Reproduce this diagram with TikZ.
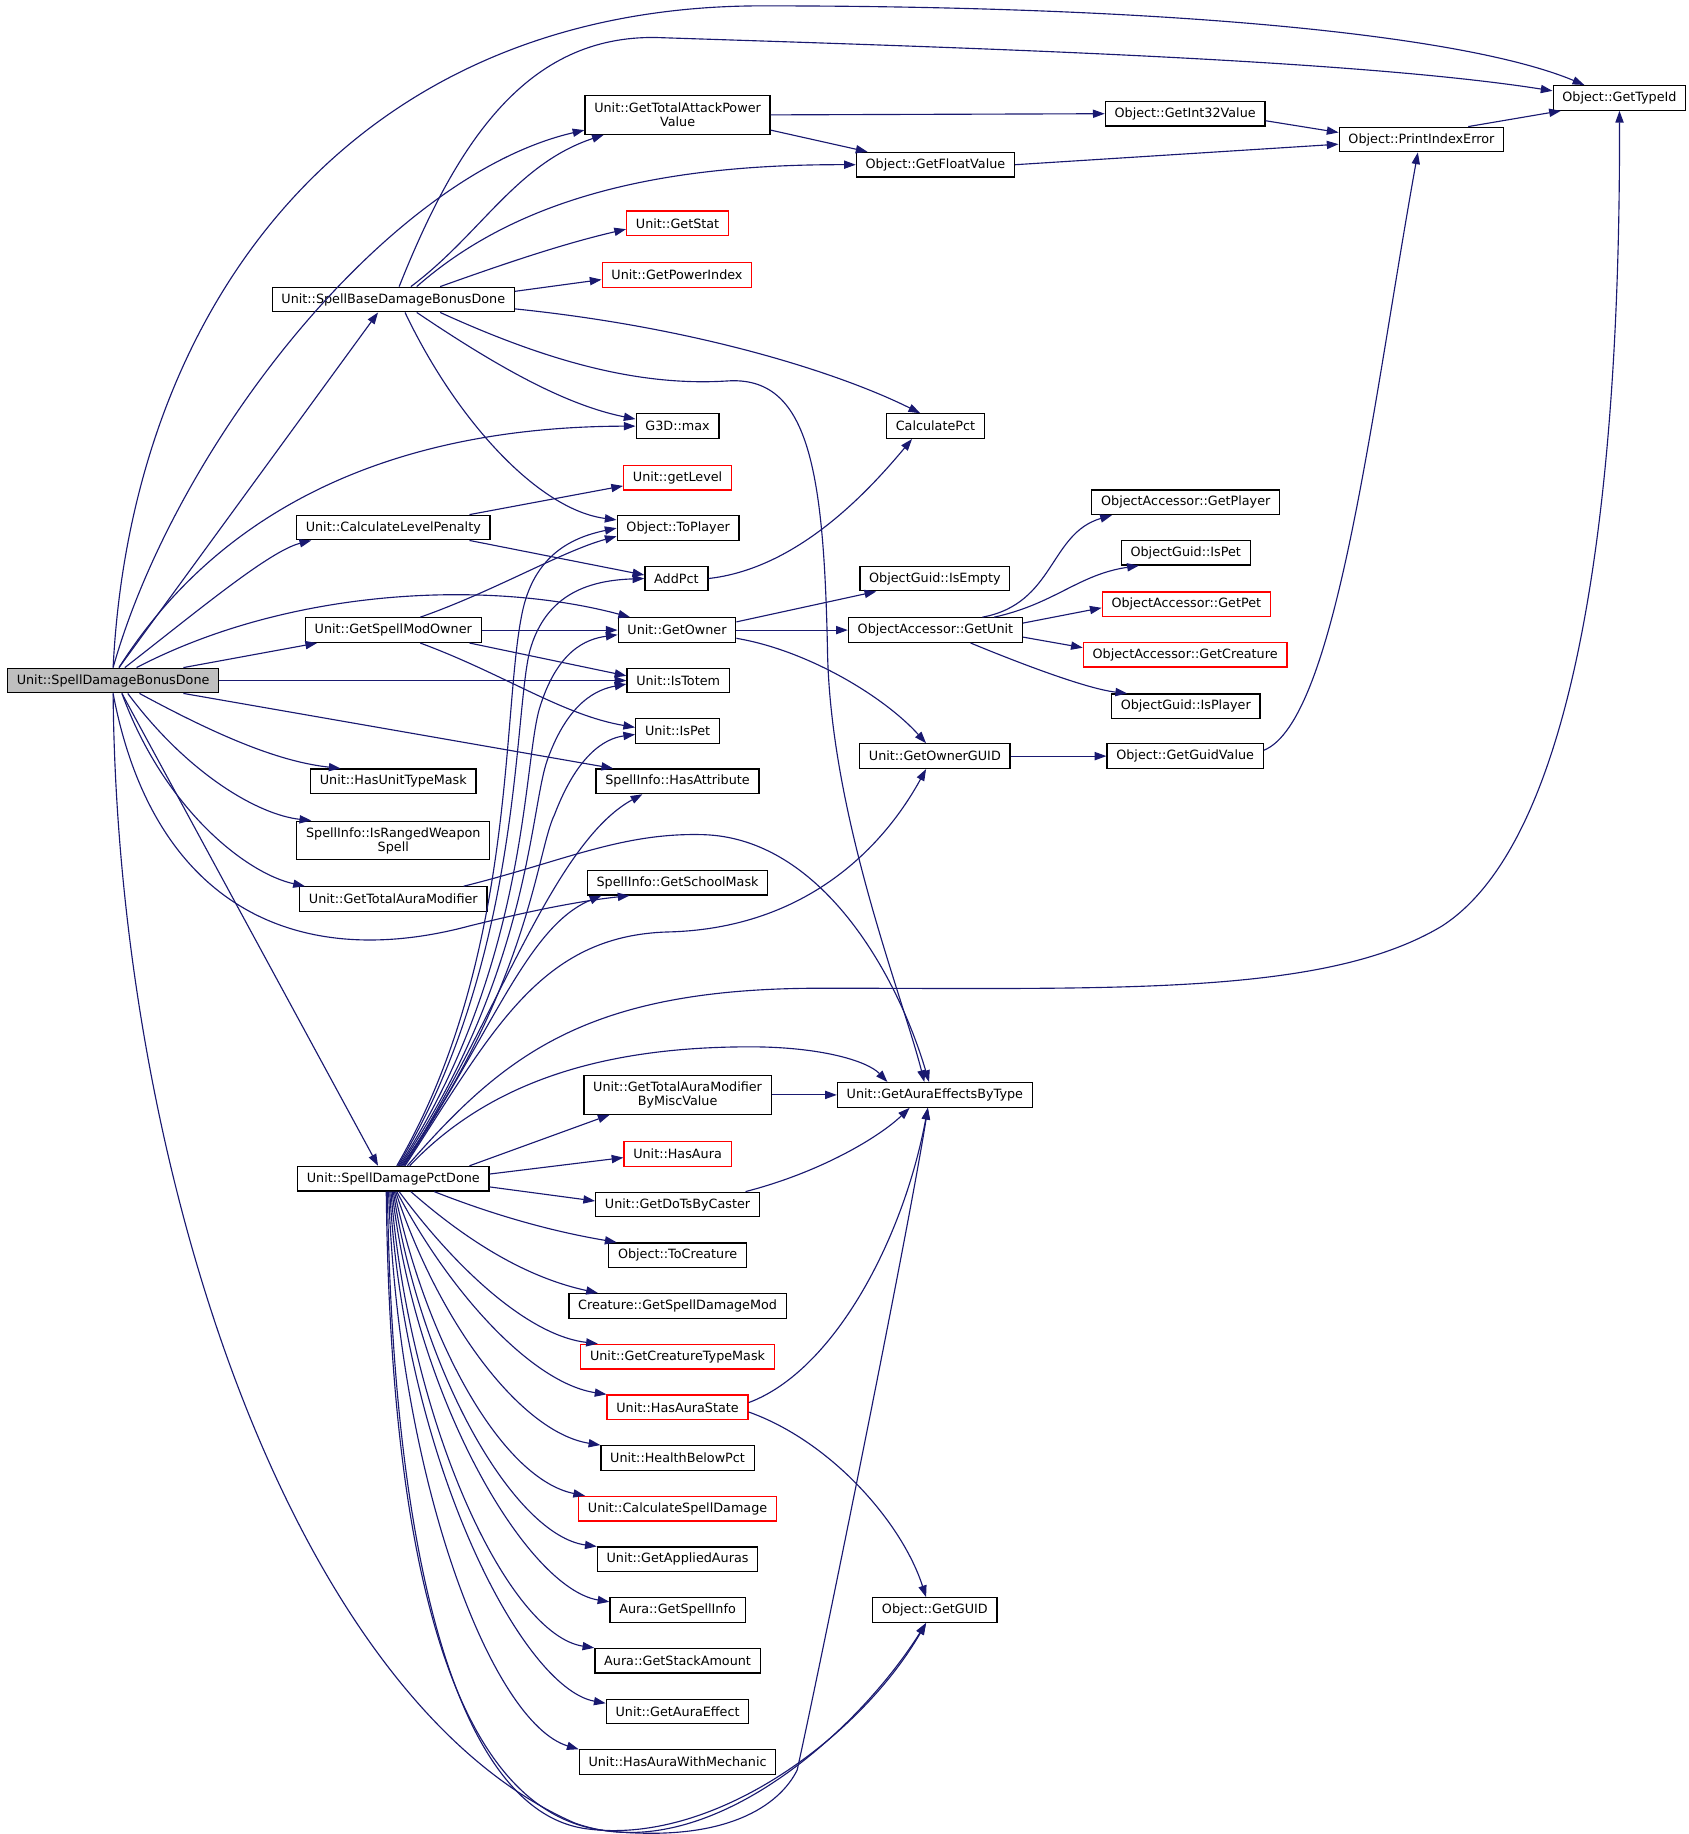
\documentclass[tikz,border=0pt]{standalone}
\usepackage{fontspec}
\newfontfamily\dxfont{DejaVu Sans}
\usetikzlibrary{arrows.meta}
\usetikzlibrary{positioning}

\definecolor{edgeblue}{HTML}{191970}
\definecolor{rootgray}{HTML}{BFBFBF}

\tikzset{
  fn/.style={draw=black, line width=0.6pt, rectangle, inner xsep=4.5pt, inner ysep=2.5pt,
    minimum height=0.42cm, align=center, font=\dxfont\fontsize{6.2pt}{6.8pt}\selectfont},
  fnred/.style={fn, draw=red},
  fnroot/.style={fn, fill=rootgray},
  fntwo/.style={fn, minimum height=0.66cm},
  call/.style={draw=edgeblue, line width=0.55pt, -{Triangle[length=2mm,width=1.4mm]}}
}

\begin{document}
\begin{tikzpicture}[x=0.02cm, y=-0.02cm]
  \useasboundingbox (0,0) rectangle (1440,1564.5);

  % caller
  \node (iBonus) [fnroot] at (96.5,580.5) {Unit::SpellDamageBonusDone};

  % first column
  \node (iBase) [fn] at (335.5,255.5) {Unit::SpellBaseDamageBonusDone};
  \node (iLvlPen) [fn] at (335.5,450) {Unit::CalculateLevelPenalty};
  \node (iModOwner) [fn] at (335.5,537.5) {Unit::GetSpellModOwner};
  \node (iUnitMask) [fn] at (335.5,666.5) {Unit::HasUnitTypeMask};
  \node (iRanged) [fntwo] at (335.5,717) {SpellInfo::IsRangedWeapon\\Spell};
  \node (iAuraMod) [fn] at (335.5,767) {Unit::GetTotalAuraModifier};
  \node (iPctDone) [fn] at (335.5,1005.5) {Unit::SpellDamagePctDone};

  % second column
  \node (iAttack) [fntwo] at (578,98) {Unit::GetTotalAttackPower\\Value};
  \node (iStat) [fnred] at (578,190.5) {Unit::GetStat};
  \node (iPowIdx) [fnred] at (577.5,234.5) {Unit::GetPowerIndex};
  \node (iMax) [fn] at (578,363.5) {G3D::max};
  \node (iLevel) [fnred] at (578,407.5) {Unit::getLevel};
  \node (iToPlayer) [fn] at (578.5,450.5) {Object::ToPlayer};
  \node (iAddPct) [fn] at (577,493.5) {AddPct};
  \node (iOwner) [fn] at (577.5,537.5) {Unit::GetOwner};
  \node (iIsTotem) [fn] at (578.5,580.5) {Unit::IsTotem};
  \node (iIsPet) [fn] at (578,623.5) {Unit::IsPet};
  \node (iHasAttr) [fn] at (578,666.5) {SpellInfo::HasAttribute};
  \node (iSchool) [fn] at (578,753) {SpellInfo::GetSchoolMask};
  \node (iMiscVal) [fntwo] at (578,934) {Unit::GetTotalAuraModifier\\ByMiscValue};
  \node (iHasAura) [fnred] at (578,984.5) {Unit::HasAura};
  \node (iDoTs) [fn] at (578,1027.5) {Unit::GetDoTsByCaster};
  \node (iToCreature) [fn, below=0.424cm of iDoTs] {Object::ToCreature};
  \node (iDmgMod) [fn, below=0.424cm of iToCreature] {Creature::GetSpellDamageMod};
  \node (iCrType) [fnred, below=0.424cm of iDmgMod] {Unit::GetCreatureTypeMask};
  \node (iAuraState) [fnred, below=0.424cm of iCrType] {Unit::HasAuraState};
  \node (iHealth) [fn, below=0.424cm of iAuraState] {Unit::HealthBelowPct};
  \node (iCalcDmg) [fnred, below=0.424cm of iHealth] {Unit::CalculateSpellDamage};
  \node (iApplied) [fn, below=0.424cm of iCalcDmg] {Unit::GetAppliedAuras};
  \node (iSpellInfo) [fn, below=0.424cm of iApplied] {Aura::GetSpellInfo};
  \node (iStack) [fn, below=0.424cm of iSpellInfo] {Aura::GetStackAmount};
  \node (iAuraEff) [fn, below=0.424cm of iStack] {Unit::GetAuraEffect};
  \node (iMech) [fn, below=0.424cm of iAuraEff] {Unit::HasAuraWithMechanic};

  % third column
  \node (iFloat) [fn] at (798,140.5) {Object::GetFloatValue};
  \node (iCalcPct) [fn] at (798,363.5) {CalculatePct};
  \node (iIsEmpty) [fn] at (797.5,493.5) {ObjectGuid::IsEmpty};
  \node (iGetUnit) [fn] at (798,537.5) {ObjectAccessor::GetUnit};
  \node (iOwnerGuid) [fn] at (797.5,645) {Unit::GetOwnerGUID};
  \node (iEffByType) [fn] at (797.5,934) {Unit::GetAuraEffectsByType};
  \node (iGUID) [fn] at (797.5,1373.5) {Object::GetGUID};

  % fourth column
  \node (iInt32) [fn] at (1011,97) {Object::GetInt32Value};
  \node (iAccPlayer) [fn] at (1011.5,428.5) {ObjectAccessor::GetPlayer};
  \node (iGuidPet) [fn] at (1011.5,471.5) {ObjectGuid::IsPet};
  \node (iAccPet) [fnred] at (1012,515.5) {ObjectAccessor::GetPet};
  \node (iAccCreature) [fnred] at (1011,558.5) {ObjectAccessor::GetCreature};
  \node (iGuidPlayer) [fn] at (1011.5,602.5) {ObjectGuid::IsPlayer};
  \node (iGuidVal) [fn] at (1011,645) {Object::GetGuidValue};

  % last columns
  \node (iPrintErr) [fn] at (1212.5,119) {Object::PrintIndexError};
  \node (iTypeId) [fn] at (1381.5,83.5) {Object::GetTypeId};

  % calls of Unit::SpellDamageBonusDone
  \draw [call] (iBonus.north) .. controls (112,260) and (300,5) .. (650,5) .. controls (1000,5) and (1250,30) .. ([xshift=-6mm]iTypeId.north);
  \draw [call] (iBonus.north) .. controls (150,380) and (330,150) .. ([yshift=-2.6mm]iAttack.west);
  \draw [call] ([xshift=1mm]iBonus.north) -- ([xshift=-2.6mm]iBase.south);
  \draw [call] ([xshift=1mm]iBonus.north) .. controls (190,430) and (340,364) .. (iMax.west);
  \draw [call] ([xshift=2mm]iBonus.north) .. controls (170,520) and (230,470) .. ([xshift=-14mm]iLvlPen.south);
  \draw [call] ([xshift=4mm]iBonus.north) .. controls (250,500) and (420,495) .. ([xshift=-8mm]iOwner.north);
  \draw [call] ([xshift=12mm]iBonus.north) -- ([xshift=-13mm]iModOwner.south);
  \draw [call] (iBonus.east) -- (iIsTotem.west);
  \draw [call] ([xshift=12mm]iBonus.south) -- ([xshift=-11mm]iHasAttr.north);
  \draw [call] ([xshift=4.5mm]iBonus.south) .. controls (190,630) and (240,650) .. ([xshift=-9mm]iUnitMask.north);
  \draw [call] ([xshift=2.5mm]iBonus.south) .. controls (160,660) and (220,695) .. ([xshift=-14mm]iRanged.north);
  \draw [call] ([xshift=1.5mm]iBonus.south) .. controls (140,690) and (210,745) .. ([xshift=1mm]iAuraMod.north west);
  \draw [call] (iBonus.south) .. controls (130,770) and (250,830) .. (400,790) .. controls (460,775) and (500,768) .. ([xshift=-8.2mm]iSchool.south);
  \draw [call] ([xshift=1.5mm]iBonus.south) -- ([xshift=-2.6mm]iPctDone.north);
  \draw [call] (iBonus.south) .. controls (100,1000) and (250,1450) .. (490,1555) .. controls (600,1595) and (730,1480) .. ([xshift=-1.5mm]iGUID.south);

  % calls of Unit::SpellBaseDamageBonusDone
  \draw [call] ([xshift=1mm]iBase.north) .. controls (390,120) and (450,30) .. (560,32) .. controls (800,40) and (1150,50) .. ([yshift=1.2mm]iTypeId.west);
  \draw [call] ([xshift=3mm]iBase.north) .. controls (410,200) and (440,140) .. ([xshift=-12.6mm]iAttack.south);
  \draw [call] ([xshift=4mm]iBase.north) .. controls (440,170) and (560,140) .. (iFloat.west);
  \draw [call] ([xshift=8mm]iBase.north) .. controls (430,225) and (480,208) .. ([yshift=-1mm]iStat.west);
  \draw [call] ([yshift=1.4mm]iBase.east) -- ([yshift=-0.8mm]iPowIdx.west);
  \draw [call] ([yshift=-1.6mm]iBase.east) .. controls (600,280) and (720,320) .. ([xshift=-2.6mm]iCalcPct.north);
  \draw [call] ([xshift=8mm]iBase.south) .. controls (460,305) and (540,330) .. (620,325) .. controls (690,320) and (703,400) .. (706,560) .. controls (710,700) and (770,850) .. ([xshift=-1.8mm]iEffByType.north);
  \draw [call] ([xshift=4mm]iBase.south) .. controls (420,310) and (480,345) .. ([yshift=1.2mm]iMax.west);
  \draw [call] ([xshift=2mm]iBase.south) .. controls (390,360) and (460,435) .. ([yshift=1.4mm]iToPlayer.west);

  \draw [call] (iAttack.east) -- (iInt32.west);
  \draw [call] ([yshift=-2.6mm]iAttack.east) -- ([xshift=2mm]iFloat.north west);
  \draw [call] ([yshift=-1.2mm]iInt32.east) -- ([yshift=1.2mm]iPrintErr.west);
  \draw [call] (iFloat.east) -- ([yshift=-0.8mm]iPrintErr.west);
  \draw [call] ([xshift=8mm]iPrintErr.north) -- ([xshift=-10mm]iTypeId.south);

  \draw [call] ([xshift=13mm]iLvlPen.north) -- ([yshift=-1.4mm]iLevel.west);
  \draw [call] ([xshift=13mm]iLvlPen.south) -- ([yshift=0.6mm]iAddPct.west);
  \draw [call] (iAddPct.east) .. controls (680,485) and (740,420) .. ([xshift=-4mm]iCalcPct.south);

  \draw [call] ([xshift=4.6mm]iModOwner.north) .. controls (420,505) and (480,470) .. ([yshift=-1.4mm]iToPlayer.west);
  \draw [call] (iModOwner.east) -- (iOwner.west);
  \draw [call] ([xshift=13mm]iModOwner.south) -- ([yshift=0.8mm]iIsTotem.west);
  \draw [call] ([xshift=4.6mm]iModOwner.south) .. controls (430,575) and (480,610) .. ([yshift=0.6mm]iIsPet.west);

  \draw [call] ([yshift=1.4mm]iOwner.east) -- ([xshift=-10mm]iIsEmpty.south);
  \draw [call] (iOwner.east) -- (iGetUnit.west);
  \draw [call] ([yshift=-1.4mm]iOwner.east) .. controls (690,555) and (755,595) .. ([xshift=-1.5mm]iOwnerGuid.north);

  \draw [call] ([xshift=8mm]iGetUnit.north) .. controls (900,515) and (895,455) .. ([xshift=-12.6mm]iAccPlayer.south);
  \draw [call] ([xshift=10mm]iGetUnit.north) .. controls (900,515) and (920,490) .. ([xshift=-8mm]iGuidPet.south);
  \draw [call] ([yshift=1.2mm]iGetUnit.east) -- ([yshift=-0.6mm]iAccPet.west);
  \draw [call] ([yshift=-1.2mm]iGetUnit.east) -- ([yshift=1.2mm]iAccCreature.west);
  \draw [call] ([xshift=6mm]iGetUnit.south) .. controls (880,570) and (930,588) .. ([xshift=-10mm]iGuidPlayer.north);

  \draw [call] (iOwnerGuid.east) -- (iGuidVal.west);
  \draw [call] ([yshift=1mm]iGuidVal.east) .. controls (1140,615) and (1170,350) .. ([xshift=-0.6mm]iPrintErr.south);

  \draw [call] ([xshift=12mm]iAuraMod.north) .. controls (480,735) and (530,710) .. (600,712) .. controls (700,715) and (765,830) .. ([xshift=-1mm]iEffByType.north);

  % calls of Unit::SpellDamagePctDone
  \draw [call] ([xshift=0.6mm]iPctDone.north) .. controls (440,820) and (428,610) .. (445,525) .. controls (455,472) and (490,458) .. (iToPlayer.west);
  \draw [call] ([xshift=0.8mm]iPctDone.north) .. controls (445,820) and (438,610) .. (452,555) .. controls (466,505) and (505,495) .. (iAddPct.west);
  \draw [call] ([xshift=1mm]iPctDone.north) .. controls (450,825) and (446,655) .. (460,605) .. controls (475,555) and (500,545) .. ([yshift=-0.8mm]iOwner.west);
  \draw [call] ([xshift=1.2mm]iPctDone.north) .. controls (452,830) and (452,690) .. (467,648) .. controls (485,598) and (510,588) .. ([yshift=-0.6mm]iIsTotem.west);
  \draw [call] ([xshift=1.4mm]iPctDone.north) .. controls (452,840) and (458,725) .. (473,695) .. controls (492,645) and (515,630) .. ([yshift=-0.6mm]iIsPet.west);
  \draw [call] ([xshift=1.6mm]iPctDone.north) .. controls (420,880) and (470,720) .. ([xshift=-6mm]iHasAttr.south);
  \draw [call] ([xshift=1.8mm]iPctDone.north) .. controls (420,880) and (450,790) .. ([xshift=-13mm]iSchool.south);
  \draw [call] ([xshift=2mm]iPctDone.north) .. controls (420,880) and (460,798) .. (570,795) .. controls (690,792) and (755,720) .. ([xshift=-1.5mm]iOwnerGuid.south);
  \draw [call] ([xshift=2.4mm]iPctDone.north) .. controls (430,900) and (500,843) .. (700,843) .. controls (950,843) and (1130,850) .. (1230,790) .. controls (1370,700) and (1382,300) .. (iTypeId.south);
  \draw [call] ([xshift=2.8mm]iPctDone.north) .. controls (420,920) and (520,893) .. (640,893) .. controls (700,893) and (740,905) .. ([xshift=-8.1mm]iEffByType.north);
  \draw [call] ([xshift=13mm]iPctDone.north) -- ([xshift=-11.6mm]iMiscVal.south);
  \draw [call] ([yshift=0.8mm]iPctDone.east) -- ([yshift=-0.6mm]iHasAura.west);
  \draw [call] ([yshift=-1.4mm]iPctDone.east) -- ([yshift=0.6mm]iDoTs.west);
  \draw [call] ([xshift=7mm]iPctDone.south) .. controls (430,1040) and (480,1052) .. ([xshift=-10.4mm]iToCreature.north);
  \draw [call] ([xshift=3mm]iPctDone.south) .. controls (400,1060) and (450,1090) .. ([xshift=-13.6mm]iDmgMod.north);
  \draw [call] ([xshift=1mm]iPctDone.south) .. controls (395,1090) and (455,1140) .. ([xshift=-13.6mm]iCrType.north);
  \draw [call] ([xshift=0.6mm]iPctDone.south) .. controls (385,1105) and (455,1180) .. (iAuraState.north west);
  \draw [call] ([xshift=0.4mm]iPctDone.south) .. controls (375,1130) and (445,1222) .. (iHealth.north west);
  \draw [call] ([xshift=0.2mm]iPctDone.south) .. controls (365,1150) and (430,1262) .. ([xshift=1.2mm]iCalcDmg.north west);
  \draw [call] (iPctDone.south) .. controls (360,1175) and (440,1310) .. (iApplied.north west);
  \draw [call] ([xshift=-0.2mm]iPctDone.south) .. controls (355,1195) and (450,1355) .. ([yshift=-0.8mm]iSpellInfo.north west);
  \draw [call] ([xshift=-0.4mm]iPctDone.south) .. controls (350,1220) and (435,1395) .. (iStack.north west);
  \draw [call] ([xshift=-0.6mm]iPctDone.south) .. controls (345,1245) and (445,1440) .. ([yshift=-0.8mm]iAuraEff.north west);
  \draw [call] ([xshift=-0.8mm]iPctDone.south) .. controls (340,1265) and (420,1470) .. (iMech.north west);
  \draw [call] ([xshift=-1mm]iPctDone.south) .. controls (335,1330) and (390,1545) .. (500,1560) .. controls (610,1575) and (735,1480) .. ([xshift=-1.5mm]iGUID.south);
  \draw [call] ([xshift=-1.2mm]iPctDone.south) .. controls (333,1330) and (385,1550) .. (520,1562) .. controls (620,1572) and (665,1540) .. (680,1510) .. controls (700,1420) and (775,1050) .. ([xshift=-1.2mm]iEffByType.south);

  \draw [call] (iMiscVal.east) -- (iEffByType.west);
  \draw [call] ([xshift=11.6mm]iDoTs.north) .. controls (700,1000) and (750,970) .. ([xshift=-4.3mm]iEffByType.south);
  \draw [call] ([yshift=0.8mm]iAuraState.east) .. controls (710,1170) and (770,1060) .. ([xshift=-1.2mm]iEffByType.south);
  \draw [call] ([yshift=-0.8mm]iAuraState.east) .. controls (710,1230) and (770,1300) .. ([xshift=-1.5mm]iGUID.north);
\end{tikzpicture}
\end{document}
